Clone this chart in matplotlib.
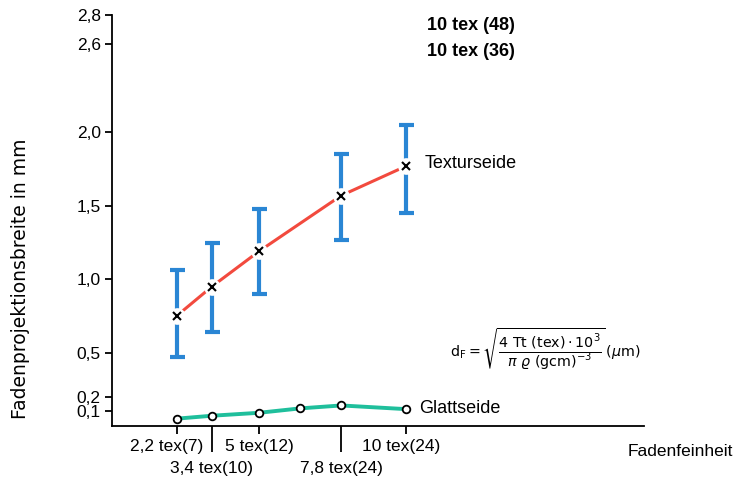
import numpy as np
import matplotlib.pyplot as plt
from matplotlib.transforms import ScaledTranslation

plt.rcParams['font.family'] = ['Liberation Sans', 'DejaVu Sans']
plt.rcParams['mathtext.fontset'] = 'dejavusans'

# Texturseide (mean with min/max range)
tex_x = [2.2, 3.4, 5.0, 7.8, 10.0]
tex_y = [0.75, 0.95, 1.19, 1.57, 1.77]
tex_lo = [0.47, 0.64, 0.90, 1.27, 1.45]
tex_hi = [1.06, 1.25, 1.48, 1.85, 2.05]

# Glattseide
glatt_x = [2.2, 3.4, 5.0, 6.4, 7.8, 10.0]
glatt_y = [0.05, 0.07, 0.09, 0.12, 0.14, 0.115]

# upper row of fineness labels (short ticks) and lower row (long ticks)
xticks_top = [2.2, 5.0, 10.0]
xlabels_top = ['2,2 tex(7)', '5 tex(12)', '10 tex(24)']
xticks_low = [3.4, 7.8]
xlabels_low = ['3,4 tex(10)', '7,8 tex(24)']
yticks = [0.1, 0.2, 0.5, 1.0, 1.5, 2.0, 2.6, 2.8]
ylabels = ['0,1', '0,2', '0,5', '1,0', '1,5', '2,0', '2,6', '2,8']

blue = '#2a86d4'
red = '#f24a3e'
green = '#1fbf9c'

fig = plt.figure(figsize=(7.5, 4.83), dpi=100)
ax = fig.add_axes([0.1493, 0.118, 0.7094, 0.851])

# error bars
err = [np.array(tex_y) - np.array(tex_lo), np.array(tex_hi) - np.array(tex_y)]
ax.errorbar(tex_x, tex_y, yerr=err, fmt='none', ecolor=blue, elinewidth=3,
            capsize=5.4, capthick=3, zorder=2)
ax.plot(tex_x, tex_y, color=red, lw=2.2, zorder=2)
# white gap around the crosses
ax.plot(tex_x, tex_y, 'o', ms=12, mfc='white', mec='none', zorder=3)
ax.plot(tex_x, tex_y, 'x', ms=5.5, mew=1.5, color='black', zorder=4)

ax.plot(glatt_x, glatt_y, color=green, lw=2.8, zorder=2)
ax.plot(glatt_x, glatt_y, 'o', ms=5.5, mfc='white', mec='black', mew=1.3, zorder=4)

ax.set_xlim(0, 18.1)
ax.set_ylim(0, 2.8)
ax.spines['top'].set_visible(False)
ax.spines['right'].set_visible(False)
ax.spines['left'].set_linewidth(1.3)
ax.spines['bottom'].set_linewidth(1.3)

ax.set_yticks(yticks)
ax.set_yticklabels(ylabels, fontsize=12.5)
ax.tick_params(axis='y', length=5, width=1.3, pad=3)

ax.set_xticks(xticks_top)
ax.set_xticklabels(xlabels_top, fontsize=12.5)
ax.set_xticks(xticks_low, minor=True)
ax.set_xticklabels(xlabels_low, minor=True, fontsize=12.5)
ax.tick_params(axis='x', which='major', length=6, width=1.3, pad=3)
ax.tick_params(axis='x', which='minor', length=19, width=1.3, pad=6)

# shift some labels sideways (in pixels)
shifts = [-10, 0, -5]
for lab, s in zip(ax.get_xticklabels(), shifts):
    lab.set_transform(lab.get_transform() + ScaledTranslation(s / 100, 0, fig.dpi_scale_trans))

ax.set_ylabel('Fadenprojektionsbreite in mm', fontsize=13.5, family='DejaVu Sans')
ax.yaxis.set_label_coords(-0.154, 0.358)
ax.text(0.97, -0.061, 'Fadenfeinheit', transform=ax.transAxes, fontsize=12.5,
        ha='left', va='center')

ax.text(10.65, 1.79, 'Texturseide', fontsize=13, va='center')
ax.text(10.45, 0.12, 'Glattseide', fontsize=13, va='center')
ax.text(10.7, 2.73, '10 tex (48)', fontsize=13, fontweight='bold', va='center')
ax.text(10.7, 2.55, '10 tex (36)', fontsize=13, fontweight='bold', va='center')
ax.text(11.5, 0.52,
        r'$\mathrm{d_F} = \sqrt{\dfrac{4\ \mathrm{Tt\ (tex)} \cdot 10^3}'
        r'{\pi\ \varrho\ \mathrm{(gcm)^{-3}}}}\,(\mu\mathrm{m})$',
        fontsize=10.3, va='center')

fig.savefig('out.png', dpi=100)
